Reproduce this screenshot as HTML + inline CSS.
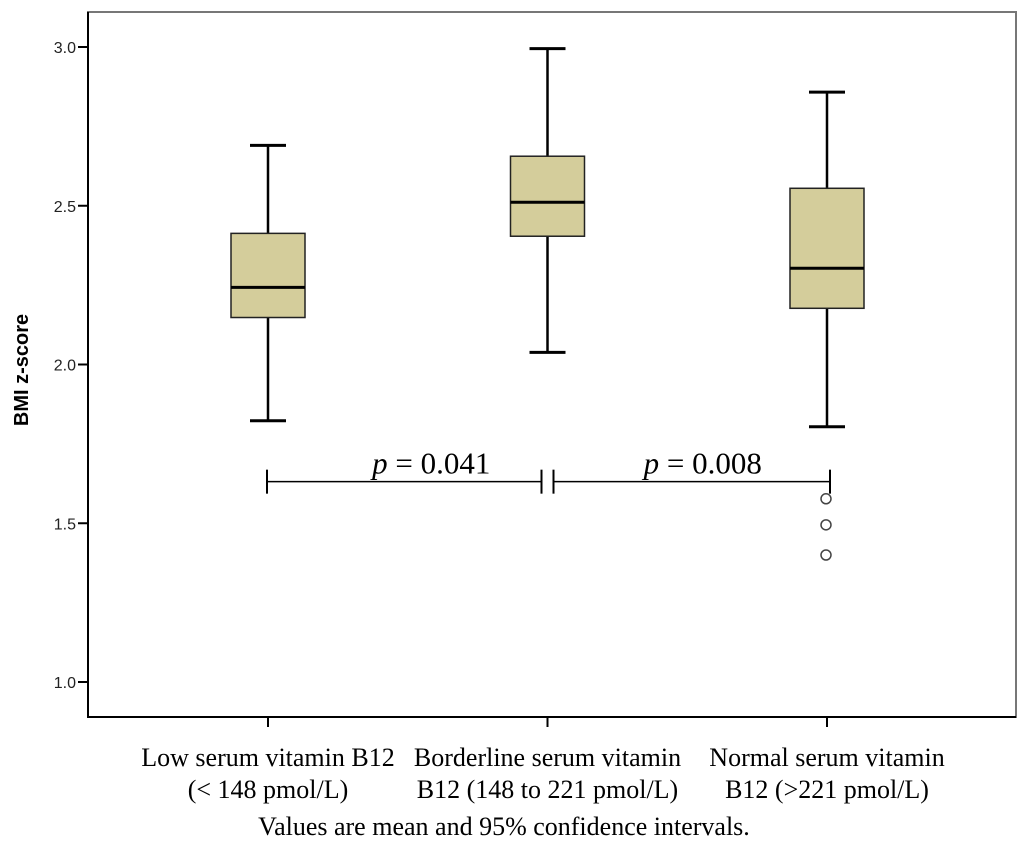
<!DOCTYPE html>
<html><head><meta charset="utf-8">
<style>
html,body{margin:0;padding:0;background:#fff;}
svg{display:block;}
</style></head>
<body>
<svg id="chart" width="1024" height="851" xmlns="http://www.w3.org/2000/svg"></svg>
<script>
const categories = [["Low serum vitamin B12","(< 148 pmol/L)"],["Borderline serum vitamin","B12 (148 to 221 pmol/L)"],["Normal serum vitamin","B12 (>221 pmol/L)"]];
const whiskerLow = [1.823, 2.038, 1.804];
const q1 = [2.148, 2.404, 2.177];
const median = [2.243, 2.511, 2.303];
const q3 = [2.413, 2.656, 2.555];
const whiskerHigh = [2.690, 2.995, 2.858];
const outliers = [[], [], [1.577, 1.495, 1.400]];
const yTicks = [1.0, 1.5, 2.0, 2.5, 3.0];
const pValues = ["0.041", "0.008"];
const bracketY = 1.631;

const NS = "http://www.w3.org/2000/svg";
const svg = document.getElementById('chart');
const L = 88, R = 1016, T = 12, B = 717;
const yScale = v => 47 + (3 - v) * 317.5;
const xScale = i => 268 + i * 279.5;
function mk(tag, attrs, parent) {
  const e = document.createElementNS(NS, tag);
  for (const k in attrs) e.setAttribute(k, attrs[k]);
  (parent || svg).appendChild(e);
  return e;
}
const frame = mk('rect', {x: L, y: T, width: R - L, height: B - T, fill: 'none', stroke: '#777', 'stroke-width': 2});


const ya = mk('line', {x1: L, y1: T, x2: L, y2: B + 1, stroke: '#000', 'stroke-width': 2});


const xa = mk('line', {x1: L - 1, y1: B, x2: R, y2: B, stroke: '#000', 'stroke-width': 2});


yTicks.forEach(v => {
  const y = yScale(v);
  const t = mk('line', {x1: L - 10, y1: y, x2: L, y2: y, stroke: '#000', 'stroke-width': 2});
  
  
  const lb = mk('text', {x: L - 12, y: y + 6, 'text-anchor': 'end', 'font-family': 'Liberation Sans, sans-serif', 'font-size': 16, fill: '#222'});
  lb.textContent = v.toFixed(1);
  
  
});
const yt = mk('text', {x: 28, y: 370, transform: 'rotate(-90 28 370)', 'text-anchor': 'middle', 'font-family': 'Liberation Sans, sans-serif', 'font-size': 20, 'font-weight': 'bold', fill: '#000'});
yt.textContent = 'BMI z-score';


categories.forEach((c, i) => {
  const x = xScale(i), hw = 37, cw = 18;
  const g = mk('g', {});
  
  
  mk('line', {x1: x, y1: yScale(whiskerHigh[i]), x2: x, y2: yScale(q3[i]), stroke: '#000', 'stroke-width': 2.5}, g);
  mk('line', {x1: x, y1: yScale(whiskerLow[i]), x2: x, y2: yScale(q1[i]), stroke: '#000', 'stroke-width': 2.5}, g);
  mk('line', {x1: x - cw, y1: yScale(whiskerHigh[i]), x2: x + cw, y2: yScale(whiskerHigh[i]), stroke: '#000', 'stroke-width': 3}, g);
  mk('line', {x1: x - cw, y1: yScale(whiskerLow[i]), x2: x + cw, y2: yScale(whiskerLow[i]), stroke: '#000', 'stroke-width': 3}, g);
  const bx = mk('rect', {x: x - hw, y: yScale(q3[i]), width: hw * 2, height: yScale(q1[i]) - yScale(q3[i]), fill: '#d4cd9b', stroke: '#222', 'stroke-width': 1.5}, g);
  
  
  const md = mk('line', {x1: x - hw, y1: yScale(median[i]), x2: x + hw, y2: yScale(median[i]), stroke: '#000', 'stroke-width': 3}, g);
  
  
  outliers[i].forEach(v => {
    const o = mk('circle', {cx: x - 1, cy: yScale(v), r: 5, fill: '#fff', stroke: '#444', 'stroke-width': 1.5}, g);
    
    
  });
  const tk = mk('line', {x1: x, y1: B, x2: x, y2: B + 10, stroke: '#000', 'stroke-width': 2});
  
  
  c.forEach((line, j) => {
    const t = mk('text', {x: x, y: 766 + j * 32, 'text-anchor': 'middle', 'font-family': 'Liberation Serif, serif', 'font-size': 26, fill: '#000'});
    t.textContent = line;
    
    
  });
});
const by = yScale(bracketY);
const labelShift = [27, 11];
[[xScale(0) - 1, xScale(1) - 6], [xScale(1) + 6, xScale(2) + 3]].forEach((s, k) => {
  const g = mk('g', {});
  
  
  mk('line', {x1: s[0], y1: by, x2: s[1], y2: by, stroke: '#000', 'stroke-width': 1.5}, g);
  mk('line', {x1: s[0], y1: by - 12, x2: s[0], y2: by + 12, stroke: '#000', 'stroke-width': 2}, g);
  mk('line', {x1: s[1], y1: by - 12, x2: s[1], y2: by + 12, stroke: '#000', 'stroke-width': 2}, g);
  const t = mk('text', {x: (s[0] + s[1]) / 2 + labelShift[k], y: by - 8, 'text-anchor': 'middle', 'font-family': 'Liberation Serif, serif', 'font-size': 31, fill: '#000'}, g);
  t.innerHTML = '<tspan font-style="italic">p</tspan> = ' + pValues[k];
  
  
});
const cap = mk('text', {x: 504, y: 835, 'text-anchor': 'middle', 'font-family': 'Liberation Serif, serif', 'font-size': 26, fill: '#000'});
cap.textContent = 'Values are mean and 95% confidence intervals.';


</script>
</body></html>
